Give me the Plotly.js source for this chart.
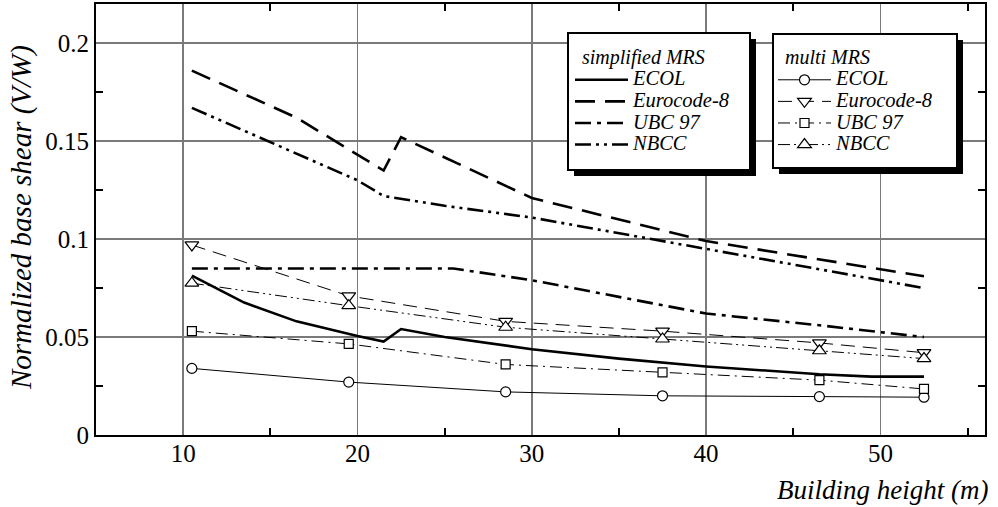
<!DOCTYPE html>
<html>
<head>
<meta charset="utf-8">
<script src="https://cdn.plot.ly/plotly-3.0.1.min.js"></script>
<style>
  html, body { margin: 0; padding: 0; background: #fff; }
  #chart { width: 998px; height: 507px; }
</style>
</head>
<body>
<div id="chart"></div>
<script>
// Building heights (m) where the multi-mode (MRS) analyses were run
const heightsMulti = [10.5, 19.5, 28.5, 37.5, 46.5, 52.5];

// Multi MRS normalized base shear V/W
const multiECOL = [0.034, 0.027, 0.022, 0.020, 0.0196, 0.0193];
const multiEC8  = [0.097, 0.071, 0.058, 0.053, 0.047, 0.042];
const multiUBC  = [0.053, 0.0465, 0.036, 0.032, 0.028, 0.0235];
const multiNBCC = [0.0775, 0.066, 0.055, 0.049, 0.043, 0.039];

// Simplified MRS curves (height, V/W)
const simpECOLx = [10.5, 13.5, 16.5, 20, 21.5, 22.5, 25, 30, 35, 40, 46.5, 49.5, 52.5];
const simpECOLy = [0.0814, 0.0676, 0.058, 0.0505, 0.0477, 0.0541, 0.050, 0.0438, 0.039, 0.035, 0.031, 0.0298, 0.0298];
const simpEC8x  = [10.5, 16.5, 21.5, 22.5, 30, 40, 52.5];
const simpEC8y  = [0.186, 0.162, 0.135, 0.152, 0.121, 0.099, 0.081];
const simpUBCx  = [10.5, 25.5, 30, 40, 46.5, 52.5];
const simpUBCy  = [0.085, 0.085, 0.079, 0.062, 0.056, 0.050];
const simpNBCCx = [10.5, 20, 21.5, 25, 30, 40, 52.5];
const simpNBCCy = [0.167, 0.130, 0.122, 0.117, 0.111, 0.095, 0.075];

// Legend labels
const codeNames = ['ECOL', 'Eurocode-8', 'UBC 97', 'NBCC'];

// Axis ticks
const xMajor = [10, 20, 30, 40, 50];
const xMinor = [15, 25, 35, 45, 55];
const yMajor = [0, 0.05, 0.1, 0.15, 0.2];
const yMajorText = ['0', '0.05', '0.1', '0.15', '0.2'];
const yMinor = [0.025, 0.075, 0.125, 0.175];

const FONT = '"Liberation Serif", "Times New Roman", Times, serif';

// Legend rows are spaced by the (small) legend font size; the label is drawn larger
function legendLabel(name) {
  return '<span style="font-family:Liberation Serif;font-size:20.5px"><i>' + name + '</i></span>';
}

function simpTrace(i, x, y, dash) {
  return {
    type: 'scatter', mode: 'lines', name: legendLabel(codeNames[i]),
    x: x, y: y, legend: 'legend',
    line: { color: '#000', width: 2.6, dash: dash },
    hoverinfo: 'skip'
  };
}
function multiTrace(i, y, dash, symbol, size) {
  return {
    type: 'scatter', mode: 'lines+markers', name: legendLabel(codeNames[i]),
    x: heightsMulti, y: y, legend: 'legend2',
    line: { color: '#000', width: 1, dash: dash },
    marker: { symbol: symbol, size: size, color: '#fff', line: { color: '#000', width: 1.2 } },
    hoverinfo: 'skip'
  };
}

const traces = [
  simpTrace(0, simpECOLx, simpECOLy, 'solid'),
  simpTrace(1, simpEC8x, simpEC8y, '20px,10px'),
  simpTrace(2, simpUBCx, simpUBCy, '16px,6px,4px,6px'),
  simpTrace(3, simpNBCCx, simpNBCCy, '16px,5px,3px,5px,3px,5px'),
  multiTrace(0, multiECOL, 'solid', 'circle', 10),
  multiTrace(1, multiEC8, '14px,8px', 'triangle-down', 12),
  multiTrace(2, multiUBC, '12px,5px,2px,5px', 'square', 9),
  multiTrace(3, multiNBCC, '12px,4px,2px,4px,2px,4px', 'triangle-up', 12)
];

// Plot area in pixels, used to place the legend frames
const L = 96, R = 985, T = 4, B = 435;
const px = v => (v - L) / (R - L);
const py = v => (B - v) / (B - T);

// Legend frames: [left, top, right, bottom] in pixels, with a drop shadow
const frames = [[568, 33, 750, 170], [773, 34, 957, 168]];
const SHADOW = 6;

const frameShapes = [];
frames.forEach(f => {
  frameShapes.push({ type: 'rect', xref: 'paper', yref: 'paper',
    x0: px(f[0] + SHADOW), x1: px(f[2] + SHADOW), y0: py(f[3] + SHADOW), y1: py(f[1] + SHADOW),
    fillcolor: '#000', line: { width: 0 }, layer: 'above' });
  frameShapes.push({ type: 'rect', xref: 'paper', yref: 'paper',
    x0: px(f[0]), x1: px(f[2]), y0: py(f[3]), y1: py(f[1]),
    fillcolor: '#fff', line: { color: '#000', width: 2 }, layer: 'above' });
});

const legendCommon = {
  xref: 'paper', yref: 'paper', xanchor: 'left', yanchor: 'top',
  bgcolor: 'rgba(0,0,0,0)', borderwidth: 0, tracegroupgap: 0, itemwidth: 53,
  font: { family: FONT, size: 14.3, color: '#000' }
};

const layout = {
  width: 998, height: 507,
  margin: { l: L, r: 998 - R, t: T, b: 507 - B },
  paper_bgcolor: '#fff', plot_bgcolor: '#fff',
  font: { family: FONT, size: 20, color: '#000' },
  xaxis: {
    range: [5, 56], tickmode: 'array', tickvals: xMajor,
    ticks: '', showgrid: true, gridcolor: '#7a7a7a', gridwidth: 1.5,
    showline: true, linecolor: '#000', linewidth: 2, mirror: 'allticks', zeroline: false,
    tickfont: { family: FONT, size: 25 }, ticklabelstandoff: -5,
    minor: { tickmode: 'array', tickvals: xMinor, ticks: 'inside', ticklen: 7, tickwidth: 2, tickcolor: '#000', showgrid: false }
  },
  yaxis: {
    range: [0, 0.22], tickmode: 'array', tickvals: yMajor, ticktext: yMajorText,
    ticks: '', showgrid: true, gridcolor: '#7a7a7a', gridwidth: 1.5,
    showline: true, linecolor: '#000', linewidth: 2, mirror: 'allticks', zeroline: false,
    tickfont: { family: FONT, size: 25 },
    minor: { tickmode: 'array', tickvals: yMinor, ticks: 'inside', ticklen: 7, tickwidth: 2, tickcolor: '#000', showgrid: false }
  },
  legend: Object.assign({}, legendCommon, {
    x: px(570), y: py(38),
    title: { text: '&nbsp;&nbsp;<i>simplified MRS</i>', font: { family: FONT, size: 20 } }
  }),
  legend2: Object.assign({}, legendCommon, {
    x: px(773), y: py(38),
    title: { text: '&nbsp;&nbsp;<i>multi MRS</i>', font: { family: FONT, size: 20 } }
  }),
  shapes: frameShapes,
  annotations: [
    { text: '<i>Building height (m)</i>', xref: 'paper', yref: 'paper', x: 1.006, xanchor: 'right',
      y: py(490), yanchor: 'middle', showarrow: false, font: { family: FONT, size: 27 } },
    { text: '<i>Normalized base shear (V/W)</i>', xref: 'paper', yref: 'paper', x: px(22), xanchor: 'center',
      y: py(218), yanchor: 'middle', textangle: -90, showarrow: false, font: { family: FONT, size: 29 } }
  ],
  showlegend: true
};

Plotly.newPlot('chart', traces, layout, { displayModeBar: false, staticPlot: true });
</script>
</body>
</html>
